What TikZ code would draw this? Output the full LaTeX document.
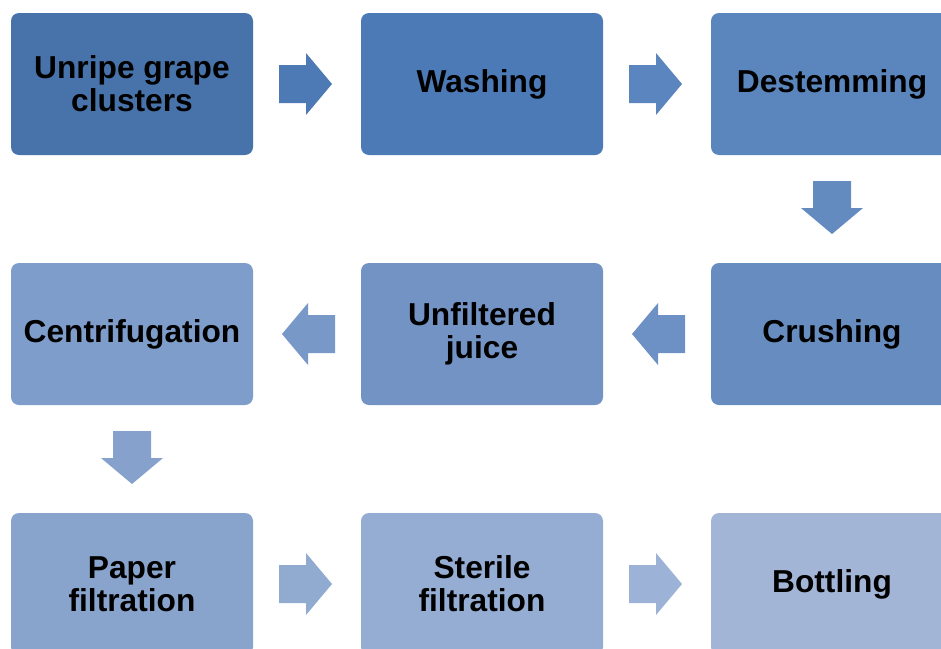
\documentclass[tikz,border=0pt]{standalone}
\usepackage{fontspec}
\setmainfont{Liberation Sans}
\begin{document}
\begin{tikzpicture}[x=1pt,y=-1pt,
  stepbox/.style={rounded corners=8pt,minimum width=242pt,minimum height=142pt,
    inner sep=0pt,align=center,font=\fontsize{31.7}{33}\selectfont\bfseries,text=black},
  flowarrow/.pic={\fill[pic actions] (0,-19)--(27,-19)--(27,-31)--(53,0)--(27,31)--(27,19)--(0,19)--cycle;}
]
\definecolor{c1}{HTML}{4773AA}
\definecolor{c2}{HTML}{4C7AB6}
\definecolor{c3}{HTML}{5B85BD}
\definecolor{c4}{HTML}{678DC0}
\definecolor{c5}{HTML}{7393C4}
\definecolor{c6}{HTML}{7E9DCA}
\definecolor{c7}{HTML}{89A4CC}
\definecolor{c8}{HTML}{95ADD3}
\definecolor{c9}{HTML}{A3B5D6}
\definecolor{a1}{HTML}{4D7AB5}
\definecolor{a2}{HTML}{5B85BE}
\definecolor{a3}{HTML}{648BC0}
\definecolor{a4}{HTML}{6D91C4}
\definecolor{a5}{HTML}{7898C8}
\definecolor{a6}{HTML}{86A2CC}
\definecolor{a7}{HTML}{90AAD0}
\definecolor{a8}{HTML}{9CB2D6}
\useasboundingbox (0,0) rectangle (941,648);
\clip (0,0) rectangle (941,648);
\node[stepbox,fill=c1] (n1) at (132,84) {Unripe grape\\clusters};
\node[stepbox,fill=c2] (n2) at (482,84) {Washing};
\node[stepbox,fill=c3] (n3) at (832,84) {Destemming};
\node[stepbox,fill=c4] (n4) at (832,334) {Crushing};
\node[stepbox,fill=c5] (n5) at (482,334) {Unfiltered\\juice};
\node[stepbox,fill=c6] (n6) at (132,334) {Centrifugation};
\node[stepbox,fill=c7] (n7) at (132,584) {Paper\\filtration};
\node[stepbox,fill=c8] (n8) at (482,584) {Sterile\\filtration};
\node[stepbox,fill=c9] (n9) at (832,584) {Bottling};
\pic[fill=a1] at (279,84) {flowarrow};
\pic[fill=a2] at (629,84) {flowarrow};
\pic[fill=a3,rotate=-90] at (832,181) {flowarrow};
\pic[fill=a4,rotate=180] at (685,334) {flowarrow};
\pic[fill=a5,rotate=180] at (335,334) {flowarrow};
\pic[fill=a6,rotate=-90] at (132,431) {flowarrow};
\pic[fill=a7] at (279,584) {flowarrow};
\pic[fill=a8] at (629,584) {flowarrow};
\end{tikzpicture}
\end{document}
